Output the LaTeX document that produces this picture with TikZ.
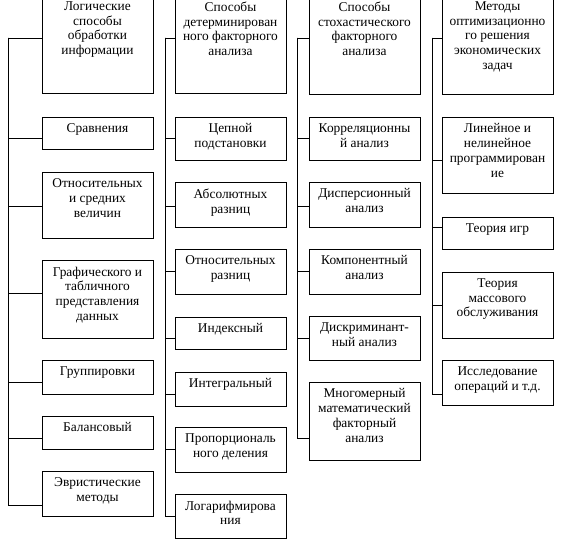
\documentclass[tikz,border=0pt]{standalone}
\usepackage{fontspec}
\setmainfont{Liberation Serif}
\tikzset{
  blk/.style={draw, line width=0.8pt, inner sep=0pt, minimum width=111},
  lbl/.style={anchor=north, align=center, inner sep=7pt, font=\fontsize{13.4}{14.7}\selectfont},
  link/.style={line width=0.8pt}
}
\begin{document}
\begin{tikzpicture}[x=1pt,y=-1pt]
		\useasboundingbox (0,0) rectangle (564,540);
		\clip (0,0) rectangle (564,540);
		% logical methods
		\node[blk, minimum height=98, label={[lbl]north:{Логические\\способы\\обработки\\информации}}] (l0) at (97.5,44) {};
		\node[blk, minimum height=32, label={[lbl]north:{Сравнения}}] (l1) at (97.5,133) {};
		\node[blk, minimum height=66, label={[lbl]north:{Относительных\\и средних\\величин}}] (l2) at (97.5,205) {};
		\node[blk, minimum height=78, label={[lbl]north:{Графического и\\табличного\\представления\\данных}}] (l3) at (97.5,299) {};
		\node[blk, minimum height=34, label={[lbl]north:{Группировки}}] (l4) at (97.5,377) {};
		\node[blk, minimum height=33, label={[lbl]north:{Балансовый}}] (l5) at (97.5,432.5) {};
		\node[blk, minimum height=45, label={[lbl]north:{Эвристические\\методы}}] (l6) at (97.5,493.5) {};
		% deterministic factor analysis
		\node[blk, minimum height=98, label={[lbl]north:{Способы\\детерминирован\\ного факторного\\анализа}}] (d0) at (230.5,44) {};
		\node[blk, minimum height=43, label={[lbl]north:{Цепной\\подстановки}}] (d1) at (230.5,138.5) {};
		\node[blk, minimum height=45, label={[lbl]north:{Абсолютных\\разниц}}] (d2) at (230.5,204.5) {};
		\node[blk, minimum height=45, label={[lbl]north:{Относительных\\разниц}}] (d3) at (230.5,271.5) {};
		\node[blk, minimum height=32, label={[lbl]north:{Индексный}}] (d4) at (230.5,333) {};
		\node[blk, minimum height=34, label={[lbl]north:{Интегральный}}] (d5) at (230.5,389) {};
		\node[blk, minimum height=45, label={[lbl]north:{Пропорциональ\\ного деления}}] (d6) at (230.5,449.5) {};
		\node[blk, minimum height=44, label={[lbl]north:{Логарифмирова\\ния}}] (d7) at (230.5,516) {};
		% stochastic factor analysis
		\node[blk, minimum height=99, label={[lbl]north:{Способы\\стохастического\\факторного\\анализа}}] (s0) at (364.5,44.5) {};
		\node[blk, minimum height=43, label={[lbl]north:{Корреляционны\\й анализ}}] (s1) at (364.5,138.5) {};
		\node[blk, minimum height=45, label={[lbl]north:{Дисперсионный\\анализ}}] (s2) at (364.5,204.5) {};
		\node[blk, minimum height=45, label={[lbl]north:{Компонентный\\анализ}}] (s3) at (364.5,271.5) {};
		\node[blk, minimum height=44, label={[lbl]north:{Дискриминант-\\ный анализ}}] (s4) at (364.5,338) {};
		\node[blk, minimum height=78, label={[lbl]north:{Многомерный\\математический\\факторный\\анализ}}] (s5) at (364.5,421) {};
		% optimization methods
		\node[blk, minimum height=99, label={[lbl]north:{Методы\\оптимизационно\\го решения\\экономических\\задач}}] (m0) at (497.5,44.5) {};
		\node[blk, minimum height=76, label={[lbl]north:{Линейное и\\нелинейное\\программирован\\ие}}] (m1) at (497.5,155) {};
		\node[blk, minimum height=32, label={[lbl]north:{Теория игр}}] (m2) at (497.5,233) {};
		\node[blk, minimum height=66, label={[lbl]north:{Теория\\массового\\обслуживания}}] (m3) at (497.5,305) {};
		\node[blk, minimum height=45, label={[lbl]north:{Исследование\\операций и т.д.}}] (m4) at (497.5,382.5) {};
		% spines
		\coordinate (Sl) at (8,38);
		\coordinate (Sd) at (165,38);
		\coordinate (Ss) at (297,38);
		\coordinate (Sm) at (432,38);
		\draw[link] (Sl) |- ([yshift=6pt]l0.west);
		\draw[link] (Sl) |- ([yshift=-5pt]l1.west);
		\draw[link] (Sl) |- ([yshift=-1pt]l2.west);
		\draw[link] (Sl) |- ([yshift=6pt]l3.west);
		\draw[link] (Sl) |- ([yshift=-5pt]l4.west);
		\draw[link] (Sl) |- ([yshift=-5.5pt]l5.west);
		\draw[link] (Sl) |- ([yshift=-11.5pt]l6.west);
		\draw[link] (Sd) |- ([yshift=6pt]d0.west);
		\draw[link] (Sd) |- (d1.west);
		\draw[link] (Sd) |- ([yshift=-1.5pt]d2.west);
		\draw[link] (Sd) |- (d3.west);
		\draw[link] (Sd) |- ([yshift=-5pt]d4.west);
		\draw[link] (Sd) |- ([yshift=-5pt]d5.west);
		\draw[link] (Sd) |- (d6.west);
		\draw[link] (Sd) |- (d7.west);
		\draw[link] (Ss) |- ([yshift=6.5pt]s0.west);
		\draw[link] (Ss) |- (s1.west);
		\draw[link] (Ss) |- ([yshift=-1.5pt]s2.west);
		\draw[link] (Ss) |- (s3.west);
		\draw[link] (Ss) |- (s4.west);
		\draw[link] (Ss) |- ([yshift=-17pt]s5.west);
		\draw[link] (Sm) |- ([yshift=6.5pt]m0.west);
		\draw[link] (Sm) |- ([yshift=-5pt]m1.west);
		\draw[link] (Sm) |- ([yshift=6pt]m2.west);
		\draw[link] (Sm) |- (m3.west);
		\draw[link] (Sm) |- ([yshift=-11.5pt]m4.west);
	\end{tikzpicture}
\end{document}
